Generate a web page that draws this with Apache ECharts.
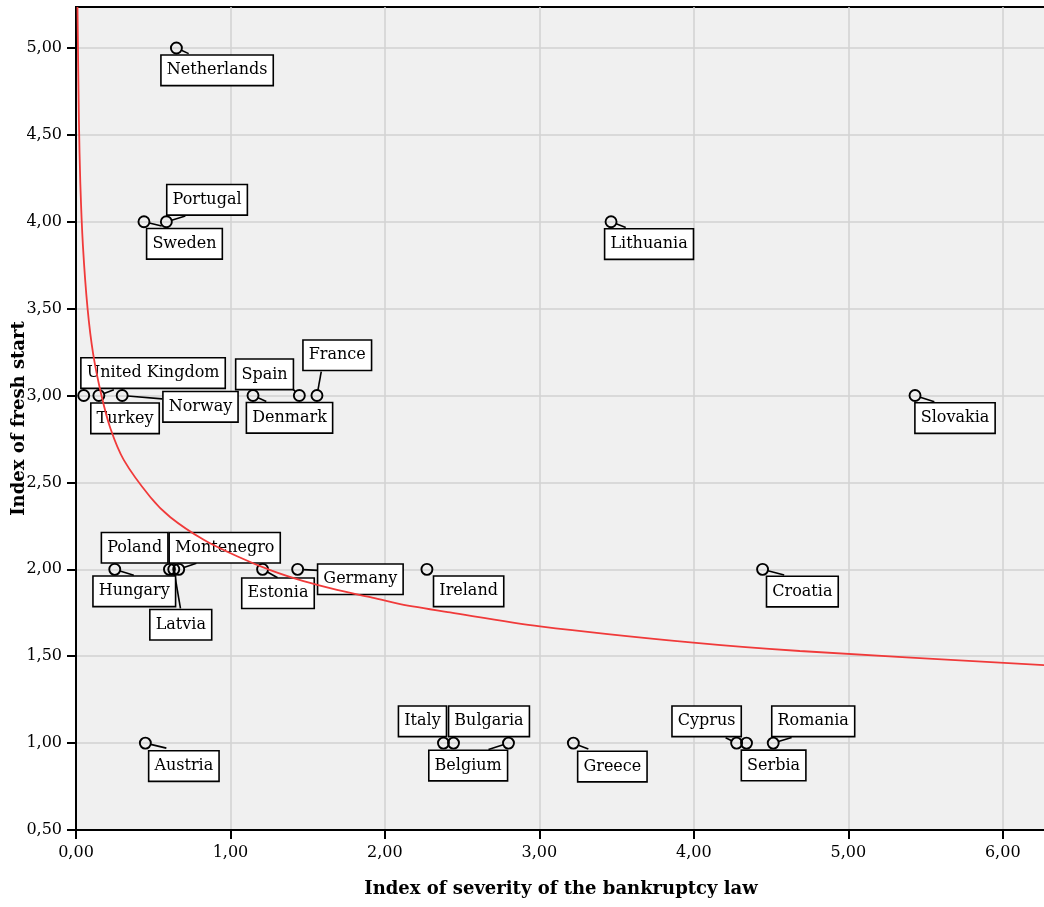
<!DOCTYPE html>
<html>
<head>
<meta charset="utf-8">
<script src="https://cdn.jsdelivr.net/npm/echarts@6/dist/echarts.min.js"></script>
<style>
  html, body { margin: 0; padding: 0; background: #fff; }
  #chart { width: 1044px; height: 907px; }
</style>
</head>
<body>
<div id="chart"></div>
<script>
// Countries with their bankruptcy-law severity index (x) and fresh-start index (y)
const countries = [
  'Netherlands', 'Portugal', 'Sweden', 'Lithuania', 'Slovakia',
  'United Kingdom', 'Turkey', 'Norway', 'Spain', 'Denmark', 'France',
  'Hungary', 'Poland', 'Latvia', 'Montenegro', 'Estonia', 'Germany', 'Ireland', 'Croatia',
  'Austria', 'Italy', 'Bulgaria', 'Belgium', 'Greece', 'Cyprus', 'Serbia', 'Romania'
];
const severity = [
  0.65, 0.585, 0.44, 3.464, 5.432,
  0.148, 0.05, 0.299, 1.446, 1.146, 1.56,
  0.251, 0.605, 0.633, 0.665, 1.208, 1.435, 2.272, 4.445,
  0.449, 2.379, 2.444, 2.80, 3.22, 4.277, 4.341, 4.514
];
const freshStart = [
  5, 4, 4, 4, 3,
  3, 3, 3, 3, 3, 3,
  2, 2, 2, 2, 2, 2, 2, 2,
  1, 1, 1, 1, 1, 1, 1, 1
];

// Fitted curve, sampled along its length
const fitSeverity = [0.0095, 0.019, 0.028, 0.045, 0.075, 0.111, 0.165, 0.223, 0.309, 0.482,
                     0.611, 0.827, 1.043, 1.258, 1.473, 1.69, 1.905, 2.099, 2.422, 3.004,
                     3.996, 4.686, 6.28];
const fitFreshStart = [5.236, 4.58, 4.22, 3.86, 3.50, 3.24, 3.0, 2.81, 2.63, 2.415,
                       2.30, 2.17, 2.075, 1.995, 1.932, 1.882, 1.84, 1.80, 1.752, 1.672,
                       1.578, 1.53, 1.448];

// Axis tick values
const xTicks = [0, 1, 2, 3, 4, 5, 6];
const yTicks = [0.5, 1, 1.5, 2, 2.5, 3, 3.5, 4, 4.5, 5];

// Label box centre, in pixels from its point
const labelOffsets = {
  'Netherlands': [40.7, 22.3], 'Portugal': [40.7, -22], 'Sweden': [40.5, 22],
  'Lithuania': [38, 22.3], 'Slovakia': [40, 22.5], 'United Kingdom': [54.2, -22.5],
  'Turkey': [41.3, 22.8], 'Norway': [78.3, 11.3], 'Spain': [-34.8, -21.2],
  'Denmark': [36.5, 22.3], 'France': [20.3, -40.3], 'Hungary': [19.5, 22],
  'Poland': [-34.8, -21.6], 'Latvia': [7, 55.4], 'Montenegro': [46, -21.6],
  'Estonia': [15.4, 23.9], 'Germany': [62.7, 9.9], 'Ireland': [41.7, 22],
  'Croatia': [39.8, 22.2], 'Austria': [38.5, 23], 'Italy': [-21, -21.8],
  'Bulgaria': [35.5, -21.8], 'Belgium': [-40.3, 22.5], 'Greece': [39, 23.5],
  'Cyprus': [-30, -21.8], 'Serbia': [27.1, 22.3], 'Romania': [40, -21.8]
};
// Leader line end, in pixels from its point
const leaderTails = {
  'Netherlands': [12.3, 5.6], 'Portugal': [19, -5.7], 'Sweden': [17.7, 4.3],
  'Lithuania': [14.7, 5.6], 'Slovakia': [19.3, 6.3], 'United Kingdom': [15, -5.7],
  'Norway': [40, 3.3], 'Denmark': [13.3, 6], 'Spain': [-7, -7], 'France': [4.3, -24],
  'Hungary': [19, 6], 'Latvia': [6.7, 39], 'Montenegro': [17.7, -6], 'Estonia': [15, 8.4],
  'Germany': [20.7, 1], 'Croatia': [21.6, 5.7], 'Austria': [21, 5], 'Belgium': [-20, 6.3],
  'Greece': [15, 6], 'Cyprus': [-11, -5.3], 'Romania': [18.4, -5.7]
};

const FONT = 'DejaVu Serif';
const fmt = v => v.toFixed(2).replace('.', ',');

const points = countries.map((name, i) => ({
  name: name,
  value: [severity[i], freshStart[i]],
  label: { offset: labelOffsets[name] || [0, 0] }
}));
const fitLine = fitSeverity.map((x, i) => [x, fitFreshStart[i]]);

const chart = echarts.init(document.getElementById('chart'), null, { renderer: 'canvas' });
chart.setOption({
  animation: false,
  backgroundColor: '#ffffff',
  grid: {
    left: 76, right: -2, top: 7, bottom: 77,
    containLabel: false,
    outerBoundsMode: 'none',
    show: true, backgroundColor: '#f0f0f0', borderColor: '#000', borderWidth: 2
  },
  xAxis: {
    type: 'value', min: 0, max: 6.28, interval: 1,
    name: 'Index of severity of the bankruptcy law',
    nameLocation: 'middle', nameGap: 50, nameMoveOverlap: false,
    nameTextStyle: { fontFamily: FONT, fontWeight: 'bold', fontSize: 18, color: '#000' },
    axisLine: { lineStyle: { color: '#000', width: 2 } },
    axisTick: { show: true, length: 9, customValues: xTicks, lineStyle: { color: '#000', width: 2 } },
    axisLabel: { customValues: xTicks, margin: 15, fontFamily: FONT, fontSize: 16, color: '#000', formatter: fmt },
    splitLine: { show: true, lineStyle: { color: '#d2d2d2', width: 1.5 } }
  },
  yAxis: {
    type: 'value', min: 0.5, max: 5.236, interval: 0.5,
    name: 'Index of fresh start',
    nameLocation: 'middle', nameGap: 48, nameRotate: 90, nameMoveOverlap: false,
    nameTextStyle: { fontFamily: FONT, fontWeight: 'bold', fontSize: 18, color: '#000' },
    axisLine: { lineStyle: { color: '#000', width: 2 } },
    axisTick: { show: true, length: 9, customValues: yTicks, lineStyle: { color: '#000', width: 2 } },
    axisLabel: { customValues: yTicks, margin: 14, fontFamily: FONT, fontSize: 16, color: '#000', formatter: fmt },
    splitLine: { show: true, lineStyle: { color: '#d2d2d2', width: 1.5 } }
  },
  series: [
    {
      // leader lines from each circle towards its label
      type: 'custom',
      z: 2,
      silent: true,
      data: countries.map((name, i) => [severity[i], freshStart[i]]),
      renderItem: function (params, api) {
        const tail = leaderTails[countries[params.dataIndex]];
        if (!tail) return null;
        const c = api.coord([api.value(0), api.value(1)]);
        const len = Math.hypot(tail[0], tail[1]);
        const r = 5.5;
        return {
          type: 'line',
          shape: {
            x1: c[0] + tail[0] / len * r, y1: c[1] + tail[1] / len * r,
            x2: c[0] + tail[0], y2: c[1] + tail[1]
          },
          style: { stroke: '#000', lineWidth: 1.6 }
        };
      }
    },
    {
      type: 'scatter',
      z: 3,
      silent: true,
      symbol: 'circle',
      symbolSize: 11,
      itemStyle: { color: 'rgba(0,0,0,0)', borderColor: '#000', borderWidth: 1.9, opacity: 1 },
      label: {
        show: true,
        position: 'inside',
        formatter: '{b}',
        align: 'center',
        verticalAlign: 'middle',
        fontFamily: FONT,
        fontSize: 16,
        lineHeight: 20,
        color: '#000',
        backgroundColor: '#ffffff',
        borderColor: '#000',
        borderWidth: 1.6,
        padding: [5, 5, 4, 5]
      },
      emphasis: { disabled: true },
      data: points
    },
    {
      type: 'line',
      z: 5,
      silent: true,
      showSymbol: false,
      smooth: 0.3,
      lineStyle: { color: '#f03a3a', width: 1.8 },
      data: fitLine
    }
  ]
});
</script>
</body>
</html>
